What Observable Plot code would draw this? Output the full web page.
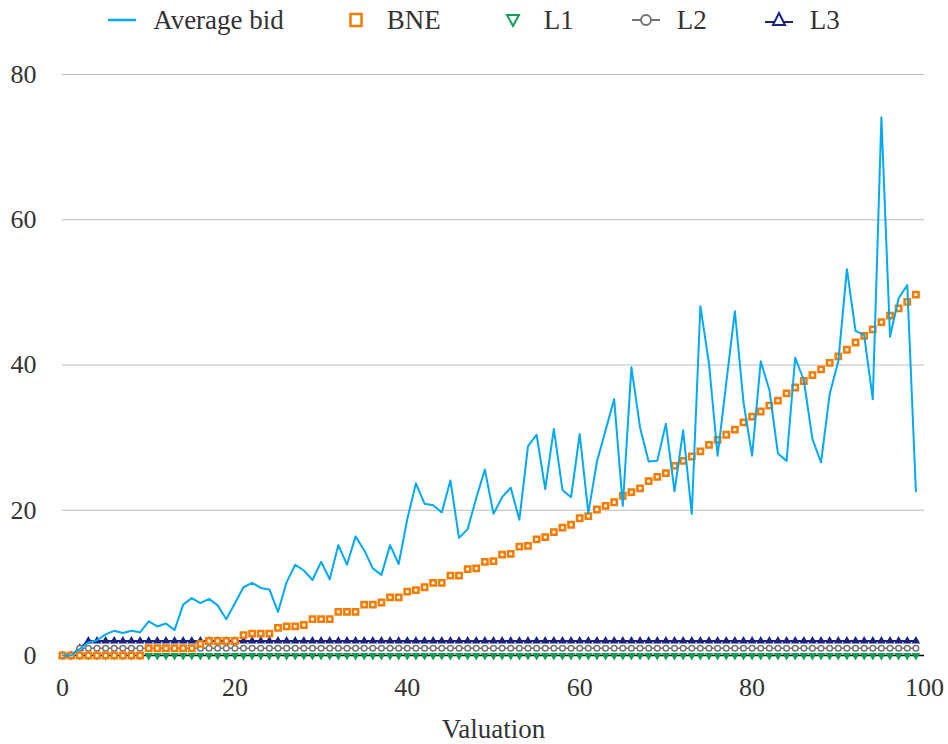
<!DOCTYPE html>
<html><head><meta charset="utf-8">
<script src="https://cdn.jsdelivr.net/npm/d3@7"></script>
<script src="https://cdn.jsdelivr.net/npm/@observablehq/plot@0.6"></script>
<style>
body{margin:0;background:#fff;font-family:"Liberation Serif",serif;}
#legend{height:40px;display:flex;justify-content:center;align-items:center;gap:58px;font-size:27px;color:#333;font-family:"Liberation Serif",serif;}
.item{display:flex;align-items:center;gap:17px;line-height:40px}
.item svg{display:block}
</style></head><body>
<div id="legend"></div><div id="chart"></div>
<script>
const valuation = [0,1,2,3,4,5,6,7,8,9,10,11,12,13,14,15,16,17,18,19,20,21,22,23,24,25,26,27,28,29,30,31,32,33,34,35,36,37,38,39,40,41,42,43,44,45,46,47,48,49,50,51,52,53,54,55,56,57,58,59,60,61,62,63,64,65,66,67,68,69,70,71,72,73,74,75,76,77,78,79,80,81,82,83,84,85,86,87,88,89,90,91,92,93,94,95,96,97,98,99];
const averageBid = [0,0,0.9,1.8,2.1,2.9,3.4,3.1,3.4,3.2, 4.7,4.0,4.4,3.5,7.0,7.9,7.2,7.8,6.9,5.0, 7.2,9.4,10.0,9.3,9.1,6.0,10.1,12.5,11.7,10.4, 12.9,10.5,15.2,12.5,16.4,14.5,12.0,11.1,15.2,12.6, 18.8,23.7,20.9,20.7,19.7,24.1,16.2,17.4,21.7,25.6, 19.5,21.8,23.1,18.7,28.8,30.4,22.9,31.2,22.8,21.8, 30.5,19.6,26.7,31.0,35.3,20.6,39.7,31.4,26.7,26.8, 31.9,22.6,31.0,19.5,48.1,40.2,27.5,37.5,47.4,34.9, 27.5,40.5,36.6,27.8,26.8,41.0,37.9,29.8,26.6,36.0, 40.5,53.2,44.7,44.1,35.3,74.1,43.9,49.2,51.0,22.6];
const bne = [0,0,0,0,0,0,0,0,0,0, 1,1,1,1,1,1,1.6,2,2,2, 2,2.8,3,3,3,3.8,4,4,4.2,5, 5,5,6,6,6,7,7,7.3,8,8, 8.8,9,9.4,10,10,11,11,11.9,12,12.9, 13,13.9,14,15,15.1,16,16.3,17,17.6,18, 18.9,19.2,20.1,20.6,21.1,22,22.5,23,24,24.6, 25.1,26.1,26.8,27.4,28.1,29,29.7,30.4,31.1,32.1, 32.9,33.6,34.4,35.1,36.1,36.9,37.8,38.6,39.4,40.3, 41.2,42.1,43.1,44,44.9,45.9,46.8,47.8,48.7,49.7];
const l1 = [0,0,0,0,0,0,0,0,0,0, 0,0,0,0,0,0,0,0,0,0, 0,0,0,0,0,0,0,0,0,0, 0,0,0,0,0,0,0,0,0,0, 0,0,0,0,0,0,0,0,0,0, 0,0,0,0,0,0,0,0,0,0, 0,0,0,0,0,0,0,0,0,0, 0,0,0,0,0,0,0,0,0,0, 0,0,0,0,0,0,0,0,0,0, 0,0,0,0,0,0,0,0,0,0];
const l2 = [0,0,1,1,1,1,1,1,1,1, 1,1,1,1,1,1,1,1,1,1, 1,1,1,1,1,1,1,1,1,1, 1,1,1,1,1,1,1,1,1,1, 1,1,1,1,1,1,1,1,1,1, 1,1,1,1,1,1,1,1,1,1, 1,1,1,1,1,1,1,1,1,1, 1,1,1,1,1,1,1,1,1,1, 1,1,1,1,1,1,1,1,1,1, 1,1,1,1,1,1,1,1,1,1];
const l3 = [0,0,1,2,2,2,2,2,2,2, 2,2,2,2,2,2,2,2,2,2, 2,2,2,2,2,2,2,2,2,2, 2,2,2,2,2,2,2,2,2,2, 2,2,2,2,2,2,2,2,2,2, 2,2,2,2,2,2,2,2,2,2, 2,2,2,2,2,2,2,2,2,2, 2,2,2,2,2,2,2,2,2,2, 2,2,2,2,2,2,2,2,2,2, 2,2,2,2,2,2,2,2,2,2];
const xTicks = [0,20,40,60,80,100];
const yTicks = [0,20,40,60,80];
const seriesNames = ["Average bid","BNE","L1","L2","L3"];
const colors = {avg:"#03a9f4", bne:"#f57c00", l1:"#0f9d58", l2:"#757575", l3:"#1a237e"};

const data = valuation.map((v,i)=>({v, avg:averageBid[i], bne:bne[i], l1:l1[i], l2:l2[i], l3:l3[i]}));

// legend
const icons = [
  `<svg width="28" height="20"><line x1="0" y1="10" x2="28" y2="10" stroke="${colors.avg}" stroke-width="2.5"/></svg>`,
  `<svg width="28" height="20"><rect x="8.5" y="4" width="11" height="12" fill="none" stroke="${colors.bne}" stroke-width="2.5"/></svg>`,
  `<svg width="28" height="20"><path d="M8,5 L20,5 L14,16 Z" fill="none" stroke="${colors.l1}" stroke-width="2"/></svg>`,
  `<svg width="28" height="20"><line x1="0" y1="10" x2="28" y2="10" stroke="${colors.l2}" stroke-width="2"/><circle cx="14" cy="10" r="5" fill="white" stroke="${colors.l2}" stroke-width="2"/></svg>`,
  `<svg width="28" height="20"><line x1="0" y1="12" x2="28" y2="12" stroke="${colors.l3}" stroke-width="2"/><path d="M14,3 L20,15 L8,15 Z" fill="white" stroke="${colors.l3}" stroke-width="2"/></svg>`
];
const legend = document.getElementById("legend");
seriesNames.forEach((n,i)=>{
  const d = document.createElement("div"); d.className="item";
  d.innerHTML = icons[i] + `<span>${n}</span>`;
  legend.appendChild(d);
});

const chart = Plot.plot({
  width: 948,
  height: 704,
  marginLeft: 62,
  marginRight: 24,
  marginTop: 34,
  marginBottom: 89,
  style: {fontFamily: "'Liberation Serif', serif", fontSize: "26px", color: "#333", background: "white"},
  x: {domain: [0,100]},
  y: {domain: [0,80]},
  marks: [
    Plot.gridY({ticks: [20,40,60,80], stroke: "#bdbdbd", strokeOpacity: 1, strokeWidth: 1}),
    Plot.axisY({ticks: yTicks, tickSize: 0, tickPadding: 26, label: null, fontFamily: "Liberation Serif"}),
    Plot.axisX({ticks: xTicks, tickSize: 0, tickPadding: 22, label: null, fontFamily: "Liberation Serif"}),
    Plot.ruleY([0], {stroke: "#000", strokeWidth: 1.6}),
    Plot.dot(data, {x: "v", y: "l1", symbol: "triangle", rotate: 180, r: 3.2, fill: colors.l1, stroke: "none"}),
    Plot.line(data, {x: "v", y: "l3", stroke: colors.l3, strokeWidth: 2}),
    Plot.dot(data, {x: "v", y: "l3", symbol: "triangle", r: 3.2, fill: colors.l3, stroke: "none"}),
    Plot.line(data, {x: "v", y: "l2", stroke: colors.l2, strokeWidth: 1.5}),
    Plot.dot(data, {x: "v", y: "l2", symbol: "circle", r: 2.8, fill: "white", stroke: colors.l2, strokeWidth: 1.5}),
    Plot.dot(data, {x: "v", y: "bne", symbol: "square", r: 3, fill: "white", stroke: colors.bne, strokeWidth: 2.5}),
    Plot.line(data, {x: "v", y: "avg", stroke: colors.avg, strokeWidth: 2}),
    Plot.text(["Valuation"], {frameAnchor: "bottom", dy: 82, fontSize: 27, fill: "#333", fontFamily: "Liberation Serif"})
  ]
});
document.getElementById("chart").appendChild(chart);
</script>
</body></html>
